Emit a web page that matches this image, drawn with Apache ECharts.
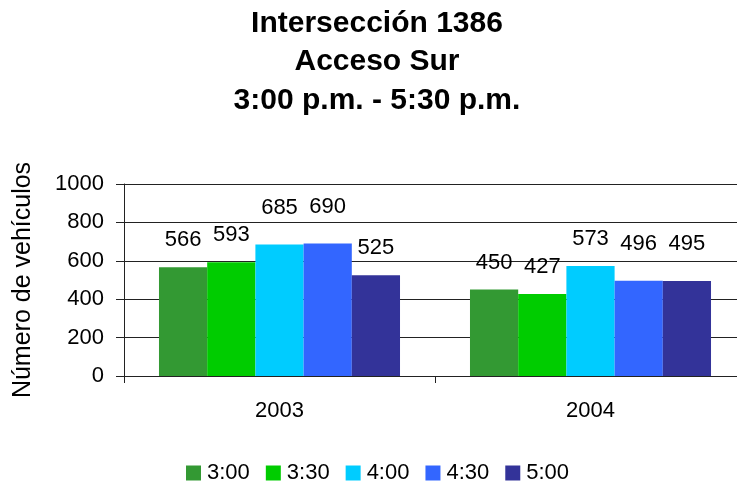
<!DOCTYPE html>
<html>
<head>
<meta charset="utf-8">
<script src="https://cdn.jsdelivr.net/npm/echarts@6/dist/echarts.min.js"></script>
<style>
  html, body { margin: 0; padding: 0; background: #fff; overflow: hidden; }
  /* plot area runs slightly past the right edge of the window */
  #chart { width: 746px; height: 484px; }
</style>
</head>
<body>
<div id="chart"></div>
<script>
// Vehicle counts per half-hour interval, south approach of intersection 1386
const years = ['2003', '2004'];
const intervals = ['3:00', '3:30', '4:00', '4:30', '5:00'];
const counts_3_00 = [566, 450];
const counts_3_30 = [593, 427];
const counts_4_00 = [685, 573];
const counts_4_30 = [690, 496];
const counts_5_00 = [525, 495];
const yTicks = [0, 200, 400, 600, 800, 1000];

const seriesValues = [counts_3_00, counts_3_30, counts_4_00, counts_4_30, counts_5_00];
const colors = ['#339933', '#00CC00', '#00CCFF', '#3366FF', '#333399'];
// extra lift (px) for value labels above each bar, per interval then per year
const labelLift = [[16, 16], [16, 16], [26, 16], [26, 26], [16, 26]];

const font = 'Arial, "Liberation Sans", sans-serif';

const chart = echarts.init(document.getElementById('chart'), null, { renderer: 'canvas' });

const series = intervals.map((name, i) => ({
  name: name,
  type: 'bar',
  barGap: '0%',
  barCategoryGap: '22.5%',
  itemStyle: { color: colors[i] },
  data: seriesValues[i].map((v, j) => ({
    value: v,
    label: { distance: labelLift[i][j] }
  })),
  label: {
    show: true,
    position: 'top',
    color: '#000',
    fontFamily: font,
    fontSize: 22
  }
}));

chart.setOption({
  animation: false,
  backgroundColor: '#fff',
  title: {
    text: 'Intersección 1386\nAcceso Sur\n3:00 p.m. - 5:30 p.m.',
    left: 372,
    textAlign: 'center',
    top: -1,
    textStyle: {
      fontFamily: font,
      fontWeight: 'bold',
      fontSize: 30,
      lineHeight: 38.5,
      color: '#000'
    }
  },
  legend: {
    top: 457,
    left: 181,
    itemWidth: 15,
    itemHeight: 15,
    itemGap: 16,
    icon: 'rect',
    textStyle: { fontFamily: font, fontSize: 22, color: '#000', padding: [0, 0, 0, 1] },
    data: intervals
  },
  grid: { left: 124, width: 622, top: 184, bottom: 108 },
  xAxis: {
    type: 'category',
    data: years,
    axisLine: { show: true, lineStyle: { color: '#222', width: 1 } },
    axisTick: { show: true, alignWithLabel: false, length: 7, lineStyle: { color: '#222' } },
    axisLabel: { fontFamily: font, fontSize: 22, color: '#000', margin: 24 },
    splitLine: { show: false }
  },
  yAxis: {
    type: 'value',
    min: yTicks[0],
    max: yTicks[yTicks.length - 1],
    interval: yTicks[1] - yTicks[0],
    name: 'Número de vehículos',
    nameLocation: 'middle',
    nameGap: 88,
    nameTextStyle: { fontFamily: font, fontSize: 25, color: '#000' },
    axisLine: { show: true, lineStyle: { color: '#222', width: 1 } },
    axisTick: { show: true, inside: false, length: 8, lineStyle: { color: '#222' } },
    axisLabel: {
      fontFamily: font, fontSize: 22, color: '#000', margin: 20,
      formatter: (v) => String(v)
    },
    splitLine: { show: true, lineStyle: { color: '#222', width: 1 } }
  },
  series: series
});
</script>
</body>
</html>
